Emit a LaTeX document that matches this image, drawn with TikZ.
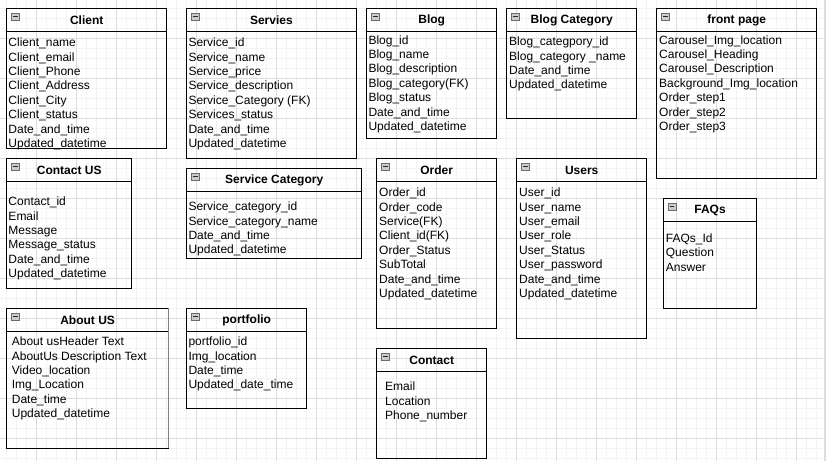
\documentclass[tikz,border=0pt]{standalone}
\usepackage{fontspec}
\setmainfont{Liberation Sans}
\definecolor{minorgrid}{HTML}{F3F3F3}
\definecolor{majorgrid}{HTML}{DDDDDD}
\tikzset{
  entity/.style={draw=black, line width=1pt, inner sep=0pt, outer sep=0pt},
  titletext/.style={font=\fontsize{12}{14.4}\selectfont\bfseries, inner sep=0pt},
  rowtext/.style={font=\fontsize{12}{14.4}\selectfont, inner sep=0pt, anchor=base west},
  iconbox/.style={draw=gray!85!black, fill=gray!40, line width=0.6pt, minimum width=7.5pt, minimum height=7pt, inner sep=0pt, outer sep=0pt, anchor=north west},
  minorline/.style={draw=minorgrid, line width=1pt},
  majorline/.style={draw=majorgrid, line width=1pt},
}
\newcommand{\erbox}[9]{%
  \pgfmathsetmacro{\bw}{#4-#2}\pgfmathsetmacro{\bh}{#5-#3}%
  \node[entity, minimum width=\bw pt, minimum height=\bh pt, anchor=north west] (#1) at (#2,#3) {};
  \draw[line width=1pt] ([yshift=-23.4pt]#1.north west) -- ([yshift=-23.4pt]#1.north east);
  \node[titletext] (#1-title) at ([yshift=-11.7pt]#1.north) {#6};
  \node[iconbox] (#1-icon) at ([xshift=5pt,yshift=-5pt]#1.north west) {};
  \draw[gray!30!black, line width=0.8pt] ([xshift=1.5pt]#1-icon.west) -- ([xshift=-1.5pt]#1-icon.east);
  \foreach \r [count=\i from 0] in {#9} {\node[rowtext] (#1-r\i) at (#7,#8+14.4*\i) {\r};}
}
\begin{document}
\begin{tikzpicture}[x=1pt, y=-1pt]
\useasboundingbox (0,0) rectangle (829,461);
\fill[white] (0,0) rectangle (829,461);
% grid
\foreach \x in {6.7,16.7,...,816.7} \draw[minorline] (\x,0) -- (\x,461);
\foreach \y in {8.3,18.3,...,458.3} \draw[minorline] (0,\y) -- (823,\y);
\foreach \x in {36.7,76.7,...,796.7} \draw[majorline] (\x,0) -- (\x,461);
\foreach \y in {38.3,78.3,...,438.3} \draw[majorline] (0,\y) -- (823,\y);
\draw[draw=majorgrid, line width=2pt] (824.5,0) -- (824.5,461);

\erbox{client}{6.7}{8.3}{166.7}{148.3}{Client}{8.3}{46.7}{Client\_name, Client\_email, Client\_Phone, Client\_Address, Client\_City, Client\_status, Date\_and\_time, Updated\_datetime}
\erbox{servies}{186.7}{8.3}{356}{158.3}{Servies}{188.3}{46.7}{Service\_id, Service\_name, Service\_price, Service\_description, Service\_Category (FK), Services\_status, Date\_and\_time, Updated\_datetime}
\erbox{blog}{366.7}{8.3}{496.7}{138.3}{Blog}{368.3}{44}{Blog\_id, Blog\_name, Blog\_description, Blog\_category(FK), Blog\_status, Date\_and\_time, Updated\_datetime}
\erbox{blogcat}{506.7}{8.3}{636.7}{118.3}{Blog Category}{509}{45.7}{Blog\_categpory\_id, Blog\_category \_name, Date\_and\_time, Updated\_datetime}
\erbox{front}{656.7}{8.3}{816.7}{178.3}{front page}{659}{44}{Carousel\_Img\_location, Carousel\_Heading, Carousel\_Description, Background\_Img\_location, Order\_step1, Order\_step2, Order\_step3}
\erbox{contactus}{6.7}{158.3}{131.7}{288.3}{Contact US}{8.3}{205.7}{Contact\_id, Email, Message, Message\_status, Date\_and\_time, Updated\_datetime}
\erbox{servcat}{186.7}{168.3}{361.7}{258.3}{Service Category}{188.3}{210.7}{Service\_category\_id, Service\_category\_name, Date\_and\_time, Updated\_datetime}
\erbox{order}{376.7}{158.3}{496.7}{328.3}{Order}{379}{196.7}{Order\_id, Order\_code, Service(FK), Client\_id(FK), Order\_Status, SubTotal, Date\_and\_time, Updated\_datetime}
\erbox{users}{516.7}{158.3}{646.7}{338.3}{Users}{519}{196.7}{User\_id, User\_name, User\_email, User\_role, User\_Status, User\_password, Date\_and\_time, Updated\_datetime}
\erbox{faqs}{663.3}{198.3}{756.7}{308.3}{FAQs}{665.7}{242.3}{FAQs\_Id, Question, Answer}
\erbox{aboutus}{6.7}{308.3}{168.5}{448.3}{About US}{11.7}{345.7}{About usHeader Text, AboutUs Description Text, Video\_location, Img\_Location, Date\_time, Updated\_datetime}
\draw[gray, line width=1.8pt] (aboutus.north east) -- (aboutus.south east);
\erbox{portfolio}{186.7}{308.3}{306.7}{408.3}{portfolio}{188.3}{345.7}{portfolio\_id, Img\_location, Date\_time, Updated\_date\_time}
\erbox{contact}{376.7}{348.3}{486.7}{458.3}{Contact}{385}{390.7}{Email, Location, Phone\_number}
\end{tikzpicture}
\end{document}
